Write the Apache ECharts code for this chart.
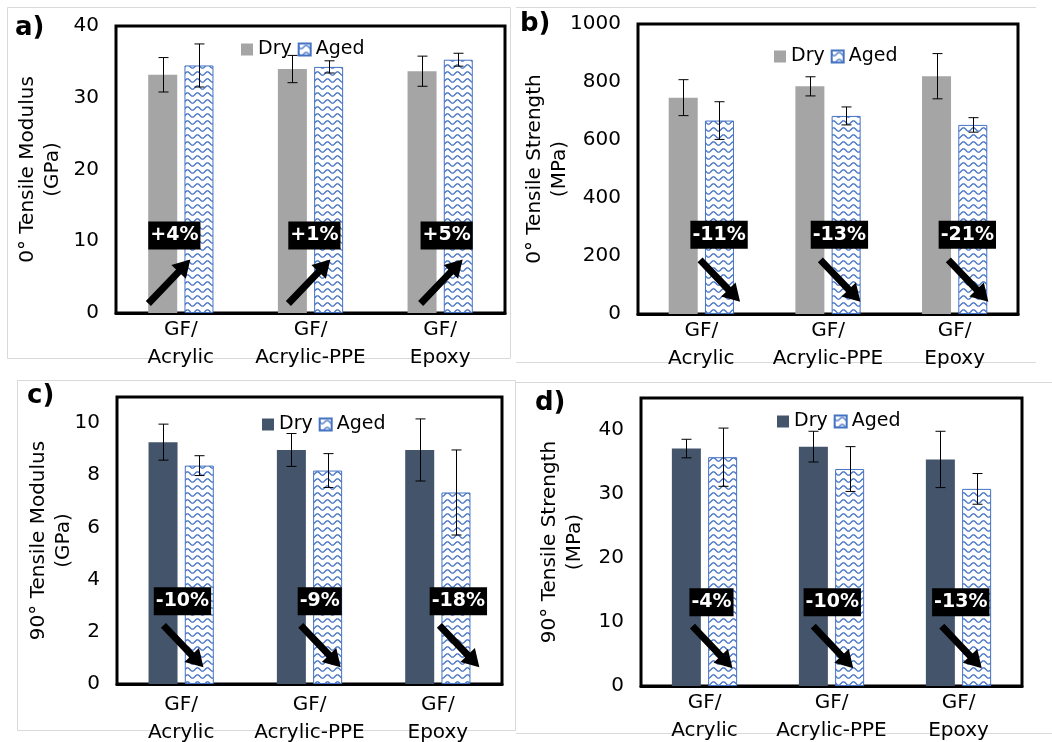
<!DOCTYPE html>
<html>
<head>
<meta charset="utf-8">
<script src="https://cdn.jsdelivr.net/npm/echarts@6/dist/echarts.min.js"></script>
<style>
  html, body { margin: 0; padding: 0; background: #fff; }
  #wrap { position: relative; width: 1052px; height: 742px; background: #fff; overflow: hidden; }
  .panel { position: absolute; }
</style>
</head>
<body>
<div id="wrap">
  <div id="pa" class="panel"></div>
  <div id="pb" class="panel"></div>
  <div id="pc" class="panel"></div>
  <div id="pd" class="panel"></div>
</div>
<script>
// ---------------- DATA ----------------
const CATEGORIES = ['GF/\nAcrylic', 'GF/\nAcrylic-PPE', 'GF/\nEpoxy'];
const SERIES_NAMES = ['Dry', 'Aged'];

// a) 0° Tensile Modulus (GPa)
const A_DRY = [33.2, 34.0, 33.7];
const A_DRY_ERR = [2.4, 1.9, 2.1];
const A_AGED = [34.5, 34.3, 35.3];
const A_AGED_ERR = [3.0, 0.85, 0.9];
const A_CHANGE = ['+4%', '+1%', '+5%'];
const A_YNAME = '0° Tensile Modulus\n(GPa)';

// b) 0° Tensile Strength (MPa)
const B_DRY = [746, 785, 820];
const B_DRY_ERR = [62, 33, 78];
const B_AGED = [667, 683, 652];
const B_AGED_ERR = [65, 31, 25];
const B_CHANGE = ['-11%', '-13%', '-21%'];
const B_YNAME = '0° Tensile Strength\n(MPa)';

// c) 90° Tensile Modulus (GPa)
const C_DRY = [9.27, 8.97, 8.97];
const C_DRY_ERR = [0.69, 0.63, 1.19];
const C_AGED = [8.37, 8.18, 7.34];
const C_AGED_ERR = [0.38, 0.65, 1.63];
const C_CHANGE = ['-10%', '-9%', '-18%'];
const C_YNAME = '90° Tensile Modulus\n(GPa)';

// d) 90° Tensile Strength (MPa)
const D_DRY = [37.1, 37.4, 35.4];
const D_DRY_ERR = [1.45, 2.4, 4.4];
const D_AGED = [35.75, 33.9, 30.8];
const D_AGED_ERR = [4.55, 3.5, 2.4];
const D_CHANGE = ['-4%', '-10%', '-13%'];
const D_YNAME = '90° Tensile Strength\n(MPa)';

// ---------------- LAYOUT / STYLE ----------------
const FONT = '"DejaVu Sans", "Liberation Sans", Arial, sans-serif';
const GRAY = '#a5a5a5';
const SLATE = '#44546a';
const BLUE = '#4472c4';
const BAR_W = 29;
const BAR_GAP_PX = 7.25;
const ERR_OFF = (BAR_W + BAR_GAP_PX) / 2;

const PANELS = [
  { el: 'pa', tag: 'a)', box: [0, 0, 516, 372], grid: [116, 26, 389, 287],
    dry: A_DRY, dryErr: A_DRY_ERR, aged: A_AGED, agedErr: A_AGED_ERR, change: A_CHANGE, yName: A_YNAME,
    dryColor: GRAY, yMin: 0, yMax: 40, yInt: 10, nameGap: 51, labelMargin: 3,
    legend: [236, 35], tagPos: [15, 15],
    annX: [-0.05, 1.03, 2.05], annY: 10.8, tail: [-26, 68], tip: [16, 24],
    frame: { rect: [7, 7, 503, 351] } },
  { el: 'pb', tag: 'b)', box: [516, 0, 536, 372], grid: [122, 24, 380, 290],
    dry: B_DRY, dryErr: B_DRY_ERR, aged: B_AGED, agedErr: B_AGED_ERR, change: B_CHANGE, yName: B_YNAME,
    dryColor: GRAY, yMin: 0, yMax: 1000, yInt: 200, nameGap: 66, labelMargin: 3,
    legend: [253, 42], tagPos: [4, 11],
    annX: [0.14, 1.09, 2.1], annY: 273, tail: [-19, 25], tip: [21, 67],
    frame: { lines: [[0, 7, 520, 7], [0, 362, 520, 362]] } },
  { el: 'pc', tag: 'c)', box: [0, 372, 516, 370], grid: [117, 25, 385, 287],
    dry: C_DRY, dryErr: C_DRY_ERR, aged: C_AGED, agedErr: C_AGED_ERR, change: C_CHANGE, yName: C_YNAME,
    dryColor: SLATE, yMin: 0, yMax: 11, yInt: 2, nameGap: 41, labelMargin: 7,
    legend: [257, 38], tagPos: [27, 11],
    annX: [0.01, 1.08, 2.16], annY: 3.17, tail: [-19, 24], tip: [21, 66],
    frame: { rect: [17, 8, 498, 350] } },
  { el: 'pd', tag: 'd)', box: [516, 372, 536, 370], grid: [125, 26, 381, 288],
    dry: D_DRY, dryErr: D_DRY_ERR, aged: D_AGED, agedErr: D_AGED_ERR, change: D_CHANGE, yName: D_YNAME,
    dryColor: SLATE, yMin: 0, yMax: 45, yInt: 10, nameGap: 54, labelMargin: 3,
    legend: [256, 35], tagPos: [19, 18],
    annX: [0.055, 1.006, 2.018], annY: 13.1, tail: [-19, 24], tip: [21, 66],
    frame: { lines: [[0, 10, 536, 10], [0, 361, 536, 361]] } }
];

function makeWave() {
  const c = document.createElement('canvas');
  c.width = 10; c.height = 7;
  const g = c.getContext('2d');
  g.fillStyle = '#ffffff';
  g.fillRect(0, 0, 10, 7);
  g.strokeStyle = BLUE;
  g.lineWidth = 1.3;
  g.beginPath();
  for (let x = -0.5; x <= 10.5; x += 0.5) {
    const y = 3.5 + 1.7 * Math.sin(2 * Math.PI * x / 10);
    if (x === -0.5) g.moveTo(x, y); else g.lineTo(x, y);
  }
  g.stroke();
  return c;
}
const WAVE = makeWave();

function errRender(offset) {
  return function (params, api) {
    const c = api.value(0), v = api.value(1), e = api.value(2);
    const hi = api.coord([c, v + e]);
    const lo = api.coord([c, v - e]);
    const x = Math.round(hi[0] + offset) + 0.5;
    const cap = 5;
    const st = { stroke: '#000', lineWidth: 1 };
    return { type: 'group', children: [
      { type: 'line', shape: { x1: x, y1: hi[1], x2: x, y2: lo[1] }, style: st },
      { type: 'line', shape: { x1: x - cap, y1: hi[1], x2: x + cap, y2: hi[1] }, style: st },
      { type: 'line', shape: { x1: x - cap, y1: lo[1], x2: x + cap, y2: lo[1] }, style: st }
    ] };
  };
}

function arrowPoints(t, h) {
  const dx = h[0] - t[0], dy = h[1] - t[1];
  const len = Math.hypot(dx, dy);
  const ux = dx / len, uy = dy / len, nx = -uy, ny = ux;
  const sw = 3.5, hw = 10, hl = 17;
  const nk = [h[0] - ux * hl, h[1] - uy * hl];
  return [
    [t[0] + nx * sw, t[1] + ny * sw],
    [nk[0] + nx * sw, nk[1] + ny * sw],
    [nk[0] + nx * hw, nk[1] + ny * hw],
    [h[0], h[1]],
    [nk[0] - nx * hw, nk[1] - ny * hw],
    [nk[0] - nx * sw, nk[1] - ny * sw],
    [t[0] - nx * sw, t[1] - ny * sw]
  ];
}

function annRender(P) {
  return function (params, api) {
    const p = api.coord([api.value(0), api.value(1)]);
    const label = P.change[params.dataIndex];
    const t = [p[0] + P.tail[0], p[1] + P.tail[1]];
    const h = [p[0] + P.tip[0], p[1] + P.tip[1]];
    return { type: 'group', children: [
      { type: 'polygon', shape: { points: arrowPoints(t, h) }, style: { fill: '#000' } },
      { type: 'text', x: p[0], y: p[1], style: {
          text: label, fill: '#fff', font: 'bold 19px ' + FONT,
          align: 'center', verticalAlign: 'middle',
          backgroundColor: '#000', padding: [5, 2, 4, 2]
      } }
    ] };
  };
}

PANELS.forEach(P => {
  const el = document.getElementById(P.el);
  el.style.left = P.box[0] + 'px';
  el.style.top = P.box[1] + 'px';
  el.style.width = P.box[2] + 'px';
  el.style.height = P.box[3] + 'px';
  const chart = echarts.init(el, null, { renderer: 'canvas' });

  const graphic = [];
  if (P.frame.rect) {
    const r = P.frame.rect;
    graphic.push({ type: 'rect', silent: true, z: -10,
      shape: { x: r[0] + 0.5, y: r[1] + 0.5, width: r[2], height: r[3] },
      style: { fill: 'none', stroke: '#d9d9d9', lineWidth: 1 } });
  }
  (P.frame.lines || []).forEach(l => {
    graphic.push({ type: 'line', silent: true, z: -10,
      shape: { x1: l[0], y1: l[1] + 0.5, x2: l[2], y2: l[3] + 0.5 },
      style: { stroke: '#d9d9d9', lineWidth: 1 } });
  });
  graphic.push({ type: 'text', left: P.tagPos[0], top: P.tagPos[1], z: 20,
    style: { text: P.tag, font: 'bold 26px ' + FONT, fill: '#000' } });

  const yInt = P.yInt;
  chart.setOption({
    animation: false,
    backgroundColor: 'transparent',
    graphic: graphic,
    legend: {
      left: P.legend[0], top: P.legend[1], icon: 'rect',
      itemWidth: 12, itemHeight: 12, itemGap: 6, selectedMode: false,
      textStyle: { fontSize: 19, fontFamily: FONT, color: '#000' },
      data: SERIES_NAMES
    },
    grid: { left: P.grid[0], top: P.grid[1], width: P.grid[2], height: P.grid[3],
      outerBoundsMode: 'none', containLabel: false,
      show: true, borderColor: '#000', borderWidth: 3, backgroundColor: 'transparent' },
    xAxis: [
      { type: 'category', data: CATEGORIES,
        axisLine: { show: true, lineStyle: { color: '#000', width: 3 } },
        axisTick: { show: false },
        axisLabel: { color: '#000', fontSize: 20, fontFamily: FONT, lineHeight: 28,
          margin: P.labelMargin, interval: 0 },
        splitLine: { show: false } },
      { type: 'value', min: -0.5, max: 2.5, show: false }
    ],
    yAxis: {
      type: 'value', min: P.yMin, max: P.yMax, interval: yInt,
      name: P.yName, nameLocation: 'middle', nameGap: P.nameGap, nameMoveOverlap: false,
      nameTextStyle: { color: '#000', fontSize: 20, fontFamily: FONT, lineHeight: 25 },
      axisLine: { show: false }, axisTick: { show: false }, splitLine: { show: false },
      axisLabel: { color: '#000', fontSize: 20, fontFamily: FONT, margin: 17,
        formatter: v => (Math.abs(v / yInt - Math.round(v / yInt)) < 1e-9 ? String(v) : '') }
    },
    series: [
      { name: SERIES_NAMES[0], type: 'bar', data: P.dry, barWidth: BAR_W,
        barGap: (BAR_GAP_PX / BAR_W * 100) + '%',
        itemStyle: { color: P.dryColor } },
      { name: SERIES_NAMES[1], type: 'bar', data: P.aged, barWidth: BAR_W,
        itemStyle: { color: { image: WAVE, repeat: 'repeat' }, borderColor: BLUE, borderWidth: 1 } },
      { name: 'dryErr', type: 'custom', z: 5, renderItem: errRender(-ERR_OFF),
        data: P.dry.map((v, i) => [i, v, P.dryErr[i]]) },
      { name: 'agedErr', type: 'custom', z: 5, renderItem: errRender(ERR_OFF),
        data: P.aged.map((v, i) => [i, v, P.agedErr[i]]) },
      { name: 'change', type: 'custom', z: 10, xAxisIndex: 1, clip: false,
        renderItem: annRender(P),
        data: P.annX.map(x => [x, P.annY]) }
    ]
  });
});
</script>
</body>
</html>
